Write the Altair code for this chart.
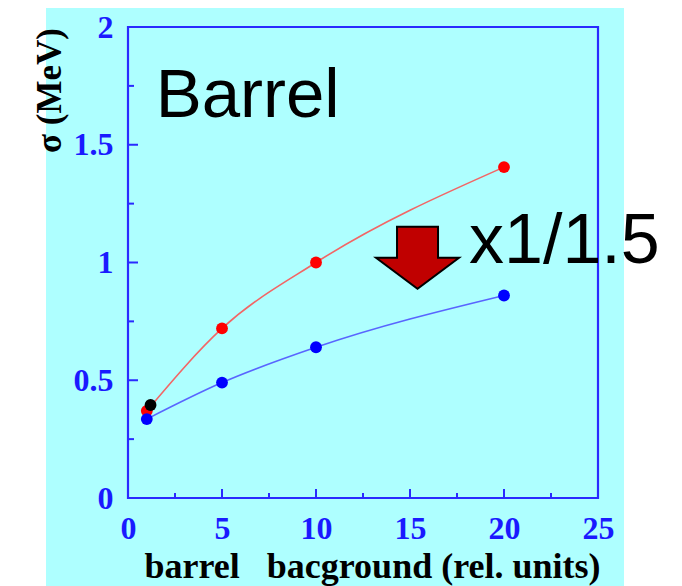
import altair as alt
import pandas as pd

# ---- data ----
red_x = [1, 5, 10, 20]
red_y = [0.37, 0.72, 1.00, 1.405]
blue_x = [1, 5, 10, 20]
blue_y = [0.335, 0.49, 0.64, 0.86]
black_x = [1.2]
black_y = [0.395]

x_ticks = [0, 5, 10, 15, 20, 25]
y_ticks = [0, 0.5, 1, 1.5, 2]
x_major = [5, 10, 15, 20]
x_minor = [2.5, 7.5, 12.5, 17.5, 22.5]
y_major = [0.5, 1, 1.5]
y_minor = [0.25, 0.75, 1.25, 1.75]

label_text = ["Barrel"]
label_x = [1.47]
label_y = [1.618]
factor_text = ["x1/1.5"]
factor_x = [18.14]
factor_y = [0.998]
arrow_x = [15.4]
arrow_y = [1.02]

W, H = 470, 471
BLUE = "#2a2aff"
CYAN = "#aeffff"

xs = alt.Scale(domain=[0, 25], nice=False)
ys = alt.Scale(domain=[0, 2], nice=False)

series = pd.DataFrame({
    "x": red_x + blue_x + black_x,
    "y": red_y + blue_y + black_y,
    "s": ["red"] * len(red_x) + ["blue"] * len(blue_x) + ["black"] * len(black_x),
    "o": list(range(len(red_x))) + list(range(len(blue_x))) + [0],
})
order = {"red": 0, "blue": 1, "black": 2}
series["z"] = series["s"].map(order)

one = pd.DataFrame({"a": [0]})

bg = alt.Chart(one).mark_rect(fill=CYAN).encode(
    x=alt.value(-82), x2=alt.value(496), y=alt.value(-19), y2=alt.value(559)
)
pad_left = alt.Chart(one).mark_rect(fill="white", opacity=0).encode(
    x=alt.value(-120), x2=alt.value(-110), y=alt.value(0), y2=alt.value(10)
)

x_axis = alt.Axis(
    values=x_ticks, format="~g", ticks=False, tickSize=0, domain=False, grid=False,
    labelFont="Liberation Serif", labelFontWeight="bold", labelFontSize=32,
    labelColor="#1a1aff", labelPadding=15, labelFlush=False, labelOverlap=False,
    title="barrel\u00a0\u00a0\u00a0bacground (rel. units)",
    titleFont="Liberation Serif", titleFontWeight="bold", titleFontSize=36,
    titleColor="black", titleX=244, titleY=79, titleAlign="center",
    titleBaseline="alphabetic", zindex=2,
)
y_axis = alt.Axis(
    values=y_ticks, format="~g", ticks=False, tickSize=0, domain=False, grid=False,
    labelFont="Liberation Serif", labelFontWeight="bold", labelFontSize=32,
    labelColor="#1a1aff", labelPadding=15, labelFlush=False, labelOverlap=False,
    title="σ (MeV)",
    titleFont="Liberation Serif", titleFontWeight="bold", titleFontSize=35,
    titleColor="black", titleAngle=270, titleX=-79, titleY=63,
    titleAlign="center", titleBaseline="middle", zindex=2,
)

axes = alt.Chart(series).mark_point(opacity=0).encode(
    x=alt.X("x:Q", scale=xs, axis=x_axis),
    y=alt.Y("y:Q", scale=ys, axis=y_axis),
)

frame = alt.Chart(one).mark_rect(fillOpacity=0, stroke=BLUE, strokeWidth=2.2).encode(
    x=alt.value(0), x2=alt.value(W), y=alt.value(0), y2=alt.value(H)
)

xt_major = alt.Chart(pd.DataFrame({"t": x_major})).mark_rule(color=BLUE, strokeWidth=2).encode(
    x=alt.X("t:Q", scale=xs), y=alt.value(H), y2=alt.value(H - 9)
)
xt_minor = alt.Chart(pd.DataFrame({"t": x_minor})).mark_rule(color=BLUE, strokeWidth=2).encode(
    x=alt.X("t:Q", scale=xs), y=alt.value(H), y2=alt.value(H - 5)
)
yt_major = alt.Chart(pd.DataFrame({"t": y_major})).mark_rule(color=BLUE, strokeWidth=2).encode(
    y=alt.Y("t:Q", scale=ys), x=alt.value(0), x2=alt.value(10)
)
yt_minor = alt.Chart(pd.DataFrame({"t": y_minor})).mark_rule(color=BLUE, strokeWidth=2).encode(
    y=alt.Y("t:Q", scale=ys), x=alt.value(0), x2=alt.value(6)
)

red_line = alt.Chart(series[series.s == "red"]).mark_line(
    color="#ff4a4a", strokeWidth=1.6, interpolate="monotone", opacity=0.85
).encode(x=alt.X("x:Q", scale=xs), y=alt.Y("y:Q", scale=ys), order="o:Q")
blue_line = alt.Chart(series[series.s == "blue"]).mark_line(
    color="#4a4aff", strokeWidth=1.6, interpolate="monotone", opacity=0.85
).encode(x=alt.X("x:Q", scale=xs), y=alt.Y("y:Q", scale=ys), order="o:Q")

pts = alt.Chart(series).mark_circle(size=140, opacity=1).encode(
    x=alt.X("x:Q", scale=xs),
    y=alt.Y("y:Q", scale=ys),
    color=alt.Color("s:N", scale=alt.Scale(domain=["red", "blue", "black"],
                                           range=["#ff0000", "#0000ff", "#000000"]),
                    legend=None),
    order=alt.Order("z:Q"),
)

barrel = alt.Chart(pd.DataFrame({"x": label_x, "y": label_y, "t": label_text})).mark_text(
    font="Liberation Sans", fontSize=69, align="left", baseline="alphabetic", color="black"
).encode(x=alt.X("x:Q", scale=xs), y=alt.Y("y:Q", scale=ys), text="t:N")

factor = alt.Chart(pd.DataFrame({"x": factor_x, "y": factor_y, "t": factor_text})).mark_text(
    font="Liberation Sans", fontSize=70, align="left", baseline="alphabetic", color="black"
).encode(x=alt.X("x:Q", scale=xs), y=alt.Y("y:Q", scale=ys), text="t:N")

arrow_path = "M -0.494 -0.747 L 0.494 -0.747 L 0.494 0 L 1 0 L 0 0.747 L -1 0 L -0.494 0 Z"
arrow = alt.Chart(pd.DataFrame({"x": arrow_x, "y": arrow_y})).mark_point(
    shape=arrow_path, size=6889, filled=True, fill="#c00000", stroke="black",
    strokeWidth=2, opacity=1, fillOpacity=1, strokeOpacity=1
).encode(x=alt.X("x:Q", scale=xs), y=alt.Y("y:Q", scale=ys))

chart = alt.layer(
    bg, pad_left, axes, xt_major, xt_minor, yt_major, yt_minor, frame,
    red_line, blue_line, pts, arrow, barrel, factor
).properties(
    width=W, height=H, padding=0, background="white"
).configure_view(stroke=None)

chart.save("out.html", embed_options={"renderer": "svg", "actions": False})
